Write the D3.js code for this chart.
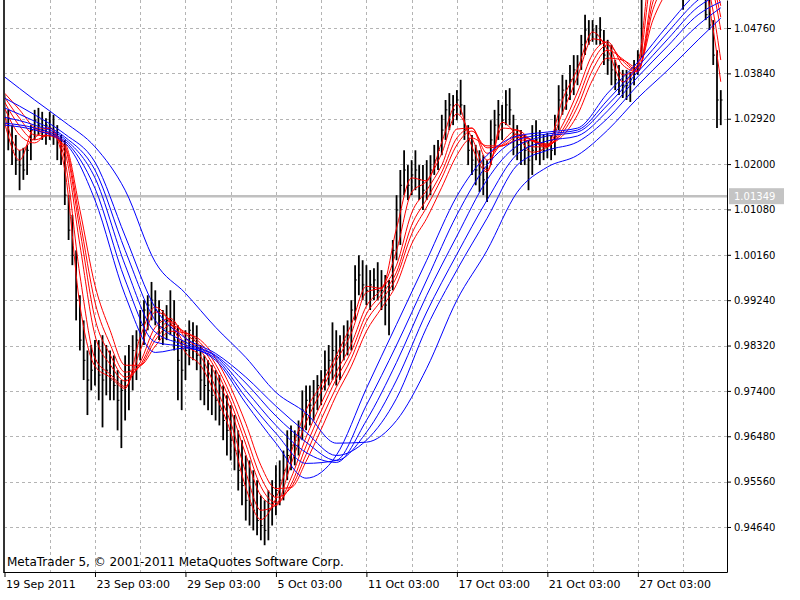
<!DOCTYPE html>
<html>
<head>
<meta charset="utf-8">
<script src="https://cdn.jsdelivr.net/npm/d3@7"></script>
<style>
body { margin: 0; background: #fff; }
text { font-family: "DejaVu Sans", sans-serif; }
</style>
</head>
<body>
<div id="chart"></div>
<script>
// H4 bars, 19 Sep - 28 Oct 2011 (bar index 0..190)
var highs = [1.0340,1.0310,1.0279,1.0259,1.0228,1.0233,1.0239,1.0279,1.0310,1.0314,
1.0306,1.0293,1.0306,1.0300,1.0279,1.0259,1.0249,1.0137,1.0097,1.0025,
0.9934,0.9883,0.9822,0.9833,0.9843,0.9843,0.9853,0.9833,0.9822,0.9812,
0.9782,0.9762,0.9812,0.9833,0.9853,0.9863,0.9904,0.9924,0.9934,0.9961,
0.9944,0.9924,0.9904,0.9914,0.9944,0.9924,0.9873,0.9843,0.9863,0.9883,
0.9879,0.9873,0.9833,0.9812,0.9802,0.9792,0.9782,0.9772,0.9751,0.9731,
0.9711,0.9691,0.9660,0.9640,0.9609,0.9599,0.9579,0.9559,0.9528,0.9518,
0.9538,0.9559,0.9589,0.9599,0.9619,0.9660,0.9670,0.9660,0.9680,0.9741,
0.9751,0.9751,0.9762,0.9772,0.9782,0.9822,0.9833,0.9879,0.9863,0.9853,
0.9873,0.9883,0.9924,0.9995,1.0015,1.0005,0.9995,0.9985,0.9989,1.0001,
0.9985,0.9975,0.9965,1.0046,1.0137,1.0188,1.0228,1.0198,1.0208,1.0228,
1.0198,1.0198,1.0208,1.0218,1.0239,1.0249,1.0300,1.0330,1.0344,1.0340,
1.0350,1.0371,1.0320,1.0279,1.0259,1.0239,1.0228,1.0218,1.0208,1.0289,
1.0310,1.0330,1.0320,1.0350,1.0354,1.0300,1.0279,1.0269,1.0259,1.0249,
1.0279,1.0289,1.0269,1.0259,1.0263,1.0259,1.0300,1.0360,1.0381,1.0371,
1.0401,1.0421,1.0421,1.0462,1.0503,1.0492,1.0492,1.0482,1.0498,1.0472,
1.0452,1.0442,1.0411,1.0401,1.0391,1.0391,1.0387,1.0411,1.0431,1.0584,
1.0645,1.0655,1.0665,1.0675,1.0665,1.0655,1.0645,1.0635,1.0645,1.0635,
1.0614,1.0635,1.0655,1.0645,1.0635,1.0624,1.0594,1.0533,1.0492,1.0431,1.0350];

var lows = [1.0279,1.0228,1.0198,1.0178,1.0147,1.0168,1.0178,1.0208,1.0249,1.0259,
1.0249,1.0239,1.0249,1.0239,1.0208,1.0198,1.0117,1.0046,0.9995,0.9883,
0.9822,0.9762,0.9691,0.9741,0.9751,0.9721,0.9666,0.9731,0.9721,0.9721,
0.9660,0.9624,0.9680,0.9701,0.9741,0.9762,0.9802,0.9833,0.9863,0.9883,
0.9873,0.9843,0.9833,0.9843,0.9853,0.9822,0.9721,0.9701,0.9762,0.9792,
0.9802,0.9782,0.9721,0.9711,0.9701,0.9691,0.9680,0.9670,0.9640,0.9609,
0.9599,0.9579,0.9538,0.9508,0.9477,0.9467,0.9457,0.9447,0.9437,0.9427,
0.9437,0.9467,0.9488,0.9508,0.9518,0.9559,0.9579,0.9589,0.9609,0.9640,
0.9660,0.9670,0.9680,0.9701,0.9711,0.9741,0.9751,0.9762,0.9751,0.9762,
0.9802,0.9812,0.9822,0.9883,0.9934,0.9924,0.9914,0.9904,0.9924,0.9924,
0.9904,0.9873,0.9853,0.9944,1.0005,1.0036,1.0137,1.0127,1.0137,1.0147,
1.0127,1.0107,1.0127,1.0137,1.0178,1.0188,1.0218,1.0249,1.0269,1.0279,
1.0289,1.0300,1.0249,1.0198,1.0178,1.0157,1.0143,1.0137,1.0123,1.0198,
1.0228,1.0249,1.0249,1.0279,1.0279,1.0218,1.0208,1.0198,1.0198,1.0147,
1.0178,1.0208,1.0198,1.0208,1.0212,1.0208,1.0218,1.0269,1.0300,1.0310,
1.0330,1.0340,1.0360,1.0391,1.0421,1.0442,1.0448,1.0442,1.0442,1.0401,
1.0381,1.0360,1.0350,1.0340,1.0334,1.0330,1.0326,1.0360,1.0381,1.0417,
1.0553,1.0594,1.0604,1.0614,1.0604,1.0584,1.0574,1.0563,1.0574,1.0543,
1.0513,1.0563,1.0584,1.0574,1.0553,1.0543,1.0492,1.0472,1.0401,1.0273,1.0279];

var closes = [1.0293,1.0249,1.0228,1.0208,1.0198,1.0188,1.0228,1.0269,1.0289,1.0279,
1.0269,1.0279,1.0273,1.0259,1.0249,1.0228,1.0137,1.0066,1.0015,0.9924,
0.9843,0.9802,0.9762,0.9782,0.9802,0.9772,0.9762,0.9782,0.9762,0.9751,
0.9721,0.9741,0.9762,0.9782,0.9822,0.9843,0.9873,0.9904,0.9914,0.9924,
0.9904,0.9883,0.9863,0.9883,0.9883,0.9843,0.9802,0.9782,0.9822,0.9863,
0.9843,0.9812,0.9762,0.9751,0.9741,0.9731,0.9721,0.9701,0.9680,0.9660,
0.9640,0.9619,0.9579,0.9548,0.9518,0.9508,0.9498,0.9477,0.9467,0.9457,
0.9498,0.9528,0.9538,0.9559,0.9579,0.9609,0.9630,0.9640,0.9660,0.9701,
0.9721,0.9711,0.9731,0.9751,0.9762,0.9782,0.9802,0.9822,0.9812,0.9833,
0.9843,0.9853,0.9904,0.9965,0.9975,0.9955,0.9944,0.9955,0.9965,0.9944,
0.9944,0.9914,0.9944,1.0025,1.0107,1.0157,1.0188,1.0157,1.0178,1.0188,
1.0168,1.0147,1.0168,1.0188,1.0208,1.0228,1.0269,1.0310,1.0320,1.0310,
1.0330,1.0320,1.0269,1.0228,1.0208,1.0188,1.0178,1.0168,1.0188,1.0249,
1.0279,1.0300,1.0289,1.0320,1.0310,1.0259,1.0239,1.0228,1.0228,1.0208,
1.0228,1.0249,1.0228,1.0228,1.0239,1.0228,1.0279,1.0330,1.0350,1.0340,
1.0371,1.0391,1.0401,1.0442,1.0472,1.0462,1.0472,1.0462,1.0472,1.0421,
1.0411,1.0391,1.0371,1.0371,1.0360,1.0360,1.0371,1.0401,1.0421,1.0563,
1.0614,1.0624,1.0635,1.0645,1.0624,1.0614,1.0604,1.0614,1.0624,1.0594,
1.0574,1.0614,1.0624,1.0614,1.0604,1.0584,1.0503,1.0482,1.0421,1.0330,1.0330];

// short group (red), read every 4 bars
var redIdx = [0,4,8,12,16,20,24,28,32,36,40,44,48,52,56,60,64,68,72,76,80,84,88,92,96,
100,104,108,112,116,120,124,128,132,136,140,144,148,152,156,160,164,168,172,176,180,184,188,190];
var ema3 = [1.0285,1.0208,1.0273,1.0273,1.0188,0.9914,0.9790,0.9768,0.9745,0.9849,0.9910,0.9879,0.9818,0.9792,0.9731,0.9656,0.9544,0.9479,0.9522,0.9615,0.9701,0.9753,0.9812,0.9875,0.9952,0.9948,1.0070,1.0172,1.0166,1.0245,1.0322,1.0235,1.0184,1.0285,1.0257,1.0224,1.0235,1.0330,1.0393,1.0468,1.0431,1.0367,1.0403,1.0618,1.0610,1.0590,1.0610,1.0472,1.0367];
var ema5 = [1.0300,1.0228,1.0253,1.0273,1.0208,0.9975,0.9806,0.9774,0.9749,0.9822,0.9900,0.9883,0.9833,0.9810,0.9747,0.9676,0.9575,0.9498,0.9508,0.9591,0.9676,0.9739,0.9800,0.9857,0.9940,0.9950,1.0025,1.0143,1.0166,1.0222,1.0302,1.0253,1.0188,1.0273,1.0269,1.0235,1.0235,1.0304,1.0377,1.0454,1.0444,1.0381,1.0395,1.0590,1.0614,1.0598,1.0608,1.0509,1.0411];
var ema8 = [1.0314,1.0259,1.0243,1.0265,1.0224,1.0036,0.9853,0.9794,0.9760,0.9798,0.9869,0.9887,0.9847,0.9822,0.9772,0.9701,0.9611,0.9528,0.9508,0.9563,0.9646,0.9715,0.9778,0.9835,0.9912,0.9946,0.9995,1.0101,1.0147,1.0198,1.0271,1.0273,1.0208,1.0245,1.0269,1.0247,1.0235,1.0279,1.0346,1.0423,1.0448,1.0401,1.0387,1.0549,1.0604,1.0606,1.0606,1.0549,1.0472];
var ema10 = [1.0326,1.0277,1.0249,1.0259,1.0233,1.0066,0.9887,0.9814,0.9768,0.9792,0.9853,0.9881,0.9855,0.9831,0.9784,0.9717,0.9632,0.9546,0.9514,0.9550,0.9628,0.9699,0.9764,0.9820,0.9896,0.9936,0.9981,1.0076,1.0129,1.0184,1.0253,1.0273,1.0222,1.0239,1.0261,1.0249,1.0237,1.0269,1.0330,1.0407,1.0442,1.0409,1.0387,1.0529,1.0590,1.0602,1.0604,1.0563,1.0498];
var ema12 = [1.0336,1.0293,1.0259,1.0257,1.0237,1.0086,0.9920,0.9835,0.9778,0.9790,0.9843,0.9873,0.9859,0.9837,0.9794,0.9731,0.9650,0.9565,0.9524,0.9544,0.9611,0.9682,0.9747,0.9806,0.9881,0.9924,0.9971,1.0058,1.0113,1.0172,1.0239,1.0267,1.0233,1.0237,1.0255,1.0249,1.0239,1.0263,1.0316,1.0391,1.0431,1.0413,1.0389,1.0513,1.0574,1.0596,1.0602,1.0574,1.0521];
var ema15 = [1.0344,1.0310,1.0273,1.0261,1.0243,1.0107,0.9954,0.9863,0.9792,0.9792,0.9831,0.9861,0.9857,0.9843,0.9806,0.9747,0.9674,0.9589,0.9542,0.9544,0.9597,0.9662,0.9731,0.9790,0.9861,0.9908,0.9956,1.0038,1.0090,1.0153,1.0218,1.0253,1.0237,1.0237,1.0249,1.0247,1.0241,1.0257,1.0300,1.0371,1.0415,1.0411,1.0395,1.0492,1.0553,1.0586,1.0598,1.0582,1.0543];

// long group (blue), read every 8 bars
var blueIdx = [0,8,16,24,32,40,48,56,64,72,80,88,96,104,112,120,128,136,144,152,160,168,176,184,190];
var ema30 = [1.0279,1.0269,1.0243,1.0127,0.9934,0.9818,0.9827,0.9802,0.9715,0.9634,0.9563,0.9609,0.9745,0.9875,1.0005,1.0135,1.0218,1.0257,1.0265,1.0273,1.0344,1.0407,1.0482,1.0549,1.0578];
var ema35 = [1.0283,1.0273,1.0247,1.0151,0.9965,0.9839,0.9829,0.9806,0.9727,0.9654,0.9593,0.9599,0.9711,0.9833,0.9965,1.0097,1.0198,1.0249,1.0261,1.0269,1.0330,1.0397,1.0468,1.0533,1.0561];
var ema40 = [1.0295,1.0279,1.0251,1.0172,0.9995,0.9859,0.9833,0.9810,0.9741,0.9670,0.9615,0.9595,0.9680,0.9798,0.9934,1.0054,1.0168,1.0237,1.0257,1.0265,1.0320,1.0387,1.0454,1.0519,1.0545];
var ema45 = [1.0314,1.0287,1.0255,1.0188,1.0025,0.9883,0.9839,0.9812,0.9756,0.9689,0.9636,0.9599,0.9656,0.9762,0.9900,1.0017,1.0127,1.0220,1.0247,1.0257,1.0308,1.0377,1.0440,1.0503,1.0529];
var ema50 = [1.0334,1.0300,1.0261,1.0204,1.0054,0.9908,0.9847,0.9816,0.9768,0.9709,0.9656,0.9609,0.9640,0.9725,0.9869,0.9985,1.0090,1.0198,1.0228,1.0245,1.0293,1.0360,1.0421,1.0482,1.0517];
var ema60 = [1.0377,1.0330,1.0285,1.0235,1.0147,1.0001,0.9938,0.9869,0.9808,0.9737,0.9695,0.9634,0.9636,0.9680,0.9786,0.9924,1.0025,1.0143,1.0194,1.0218,1.0269,1.0334,1.0391,1.0452,1.0496];

var priceTicks = [1.04760,1.03840,1.02920,1.02000,1.01080,1.00160,0.99240,0.98320,0.97400,0.96480,0.95560,0.94640];
var timeTickBars = [0,24,48,72,96,120,144,168];
var timeTickLabels = ["19 Sep 2011","23 Sep 03:00","29 Sep 03:00","5 Oct 03:00","11 Oct 03:00","17 Oct 03:00","21 Oct 03:00","27 Oct 03:00"];
var lastPrice = 1.01349;

var w = 800, h = 600;
var left = 4, right = 727, bottom = 572;

var x = d3.scaleLinear().domain([0, 191.6]).range([4.5, 726.8]);
var y = d3.scaleLinear().domain([0.93727, 1.05328]).range([bottom, 0]);

var svg = d3.select("#chart")
  .append("svg")
  .attr("width", w)
  .attr("height", h);

svg.append("defs").append("clipPath").attr("id", "plot")
  .append("rect").attr("x", left).attr("y", 0)
  .attr("width", right - left).attr("height", bottom);

// grid
var grid = svg.append("g").attr("stroke", "#b4b4b4").attr("stroke-dasharray", "3,3")
  .attr("shape-rendering", "crispEdges");
grid.selectAll("line.v")
  .data(d3.range(12, 190, 12))
  .enter().append("line")
  .attr("class", "v")
  .attr("x1", function(d) { return Math.round(x(d)) + 0.5; })
  .attr("x2", function(d) { return Math.round(x(d)) + 0.5; })
  .attr("y1", 0).attr("y2", bottom);
grid.selectAll("line.h")
  .data(priceTicks)
  .enter().append("line")
  .attr("class", "h")
  .attr("x1", left).attr("x2", right)
  .attr("y1", function(d) { return Math.round(y(d)) + 0.5; })
  .attr("y2", function(d) { return Math.round(y(d)) + 0.5; });

var plot = svg.append("g").attr("clip-path", "url(#plot)");

// last price line
plot.append("line")
  .attr("x1", left).attr("x2", right)
  .attr("y1", y(lastPrice)).attr("y2", y(lastPrice))
  .attr("stroke", "#c0c0c0").attr("stroke-width", 2.5);

// bars
var bars = plot.append("g").attr("stroke", "#000");
bars.selectAll("line.hl")
  .data(highs)
  .enter().append("line")
  .attr("class", "hl")
  .attr("x1", function(d, i) { return x(i); })
  .attr("x2", function(d, i) { return x(i); })
  .attr("y1", function(d) { return y(d); })
  .attr("y2", function(d, i) { return y(lows[i]); })
  .attr("stroke-width", 1.8);
bars.selectAll("line.c")
  .data(closes)
  .enter().append("line")
  .attr("class", "c")
  .attr("x1", function(d, i) { return x(i); })
  .attr("x2", function(d, i) { return x(i) + 1.8; })
  .attr("y1", function(d) { return y(d); })
  .attr("y2", function(d) { return y(d); })
  .attr("stroke-width", 1);

function maLine(idx) {
  return d3.line()
    .x(function(d, i) { return x(idx[i]); })
    .y(function(d) { return y(d); })
    .curve(d3.curveMonotoneX);
}

var redLines = [ema3, ema5, ema8, ema10, ema12, ema15];
var blueLines = [ema30, ema35, ema40, ema45, ema50, ema60];

plot.selectAll("path.red")
  .data(redLines)
  .enter().append("path")
  .attr("class", "red")
  .attr("d", maLine(redIdx))
  .attr("fill", "none").attr("stroke", "#ff0000").attr("stroke-width", 1);

plot.selectAll("path.blue")
  .data(blueLines)
  .enter().append("path")
  .attr("class", "blue")
  .attr("d", maLine(blueIdx))
  .attr("fill", "none").attr("stroke", "#0000ff").attr("stroke-width", 1);

// frame
svg.append("line").attr("x1", left).attr("x2", left).attr("y1", 0).attr("y2", bottom + 1)
  .attr("stroke", "#333").attr("stroke-width", 2);

var yAxis = d3.axisRight(y).tickValues(priceTicks).tickSize(4).tickSizeOuter(0)
  .tickFormat(d3.format(".5f"));
var ya = svg.append("g").attr("transform", "translate(" + right + ",0)").call(yAxis);
ya.selectAll("text").attr("font-size", 10).attr("font-family", "DejaVu Sans").attr("fill", "#000");
ya.selectAll("line,path").attr("stroke", "#000");

var xAxis = d3.axisBottom(x).tickValues(timeTickBars).tickSize(5).tickSizeOuter(0)
  .tickFormat(function(d, i) { return timeTickLabels[i]; });
var xa = svg.append("g").attr("transform", "translate(0," + bottom + ")").call(xAxis);
xa.select(".domain").attr("d", "M" + left + ",0.5H" + (right + 0.5));
xa.selectAll("text").attr("font-size", 11).attr("font-family", "DejaVu Sans")
  .attr("fill", "#000").attr("text-anchor", "start").attr("dx", 1);
xa.selectAll("line,path").attr("stroke", "#000");

// last price label
svg.append("rect")
  .attr("x", right + 2).attr("y", y(lastPrice) - 8)
  .attr("width", 55).attr("height", 16)
  .attr("fill", "#c4c4c4");
svg.append("text")
  .attr("x", right + 7).attr("y", y(lastPrice))
  .attr("dy", "0.35em")
  .attr("font-size", 10).attr("fill", "#fff")
  .text(d3.format(".5f")(lastPrice));

svg.append("text")
  .attr("x", 7).attr("y", 566)
  .attr("font-size", 12).attr("fill", "#000")
  .text("MetaTrader 5, \u00a9 2001-2011 MetaQuotes Software Corp.");
</script>
</body>
</html>
